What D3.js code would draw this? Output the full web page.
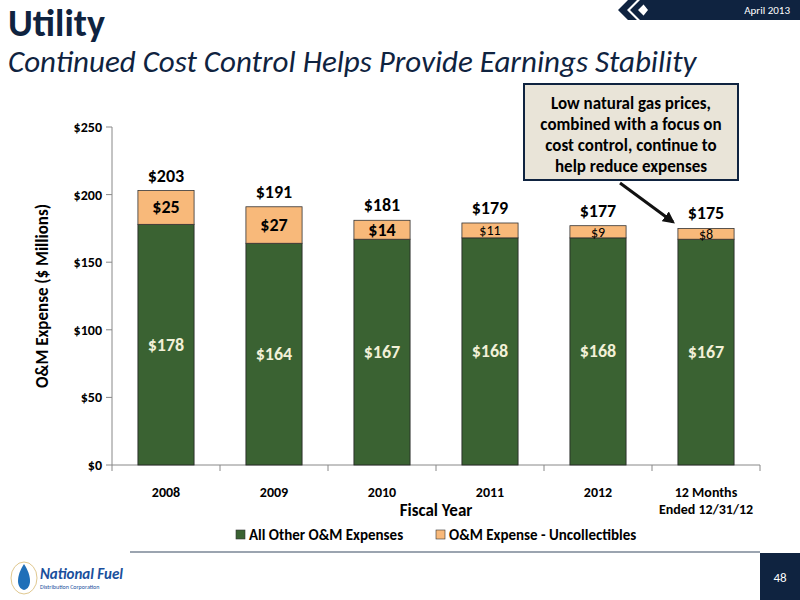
<!DOCTYPE html><html><head><meta charset="utf-8"><script src="https://d3js.org/d3.v7.min.js"></script>
<style>body{margin:0;background:#fff}text{font-family:Carlito,Calibri,"Liberation Sans",sans-serif}</style></head><body>
<svg id="c" width="800" height="600"></svg>
<script>
const categories=["2008","2009","2010","2011","2012","12 Months|Ended 12/31/12"];
const otherOM=[178,164,167,168,168,167];
const uncollect=[25,27,14,11,9,8];
const totals=[203,191,181,179,177,175];
const yTicks=[0,50,100,150,200,250];
const svg=d3.select("#c");
svg.append("path").attr("d","M640,0 L800,0 L800,20 L640,20 L648,10 Z").attr("fill","#0f2340");
svg.append("path").attr("d","M628,0 L637,0 L627,10 L637,20 L628,20 L618,10 Z").attr("fill","#0f2340");
svg.append("path").attr("d","M640,0 L648,0 L638,10 L648,20 L640,20 L630,10 Z").attr("fill","#0f2340");
svg.append("text").attr("x",790).attr("y",14).attr("text-anchor","end").attr("fill","#fff").attr("font-size",11).text("April 2013");
svg.append("text").attr("x",8).attr("y",36).attr("font-size",38).attr("font-weight","bold").attr("fill","#0f2340").text("Utility");
svg.append("text").attr("x",8).attr("y",72).attr("font-size",31).attr("font-style","italic").attr("fill","#0f2340").text("Continued Cost Control Helps Provide Earnings Stability");
const x=d3.scaleBand().domain(categories).range([112,760]).paddingInner(0.48).paddingOuter(0.24);
const y=d3.scaleLinear().domain([0,250]).range([465,127]);
const g=svg.append("g");
g.append("line").attr("x1",112).attr("x2",112).attr("y1",127).attr("y2",465).attr("stroke","#888");
yTicks.forEach(t=>{g.append("line").attr("x1",106).attr("x2",112).attr("y1",y(t)).attr("y2",y(t)).attr("stroke","#888");
 g.append("text").attr("x",102).attr("y",y(t)+5).attr("text-anchor","end").attr("font-size",14).attr("font-weight","bold").text("$"+t);});
g.append("line").attr("x1",112).attr("x2",760).attr("y1",465).attr("y2",465).attr("stroke","#888");
const step=648/6;
for(let i=0;i<=6;i++)g.append("line").attr("x1",112+i*step).attr("x2",112+i*step).attr("y1",465).attr("y2",471).attr("stroke","#888");
categories.forEach((c,i)=>{
 const cx=x(c)+x.bandwidth()/2;
 c.split("|").forEach((l,k)=>g.append("text").attr("x",cx).attr("y",497+k*17).attr("text-anchor","middle").attr("font-size",14).attr("font-weight","bold").text(l));
 g.append("rect").attr("x",x(c)).attr("width",x.bandwidth()).attr("y",y(otherOM[i])).attr("height",y(0)-y(otherOM[i])).attr("fill","#3a6232").attr("stroke","#222").attr("stroke-width",0.8);
 g.append("rect").attr("x",x(c)).attr("width",x.bandwidth()).attr("y",y(totals[i])).attr("height",y(otherOM[i])-y(totals[i])).attr("fill","#f8b97a").attr("stroke","#333").attr("stroke-width",0.8);
 g.append("text").attr("x",cx).attr("y",y(otherOM[i]/2)+6).attr("text-anchor","middle").attr("font-size",18).attr("font-weight","bold").attr("fill","#f2f0d8").text("$"+otherOM[i]);
 const big=uncollect[i]>=14;
 g.append("text").attr("x",cx).attr("y",(y(totals[i])+y(otherOM[i]))/2+(big?6:5)).attr("text-anchor","middle").attr("font-size",big?18:14).attr("font-weight",big?"bold":"normal").text("$"+uncollect[i]);
 g.append("text").attr("x",cx).attr("y",y(totals[i])-9).attr("text-anchor","middle").attr("font-size",18).attr("font-weight","bold").text("$"+totals[i]);
});
svg.append("text").attr("transform","translate(48,296) rotate(-90)").attr("text-anchor","middle").attr("font-size",17).attr("font-weight","bold").text("O&M Expense ($ Millions)");
svg.append("text").attr("x",436).attr("y",516).attr("text-anchor","middle").attr("font-size",17).attr("font-weight","bold").text("Fiscal Year");
[["All Other O&M Expenses","#3a6232",236],["O&M Expense - Uncollectibles","#f8b97a",436]].forEach(([t,c,lx])=>{
 svg.append("rect").attr("x",lx).attr("y",530).attr("width",9).attr("height",9).attr("fill",c).attr("stroke","#333").attr("stroke-width",0.6);
 svg.append("text").attr("x",lx+13).attr("y",540).attr("font-size",15).attr("font-weight","bold").text(t);});
svg.append("rect").attr("x",524).attr("y",84).attr("width",214).attr("height",96).attr("fill","#e9e4d8").attr("stroke","#0f2340").attr("stroke-width",2);
["Low natural gas prices,","combined with a focus on","cost control, continue to","help reduce expenses"].forEach((l,k)=>svg.append("text").attr("x",631).attr("y",109+k*21).attr("text-anchor","middle").attr("font-size",17).attr("font-weight","bold").text(l));
svg.append("defs").append("marker").attr("id","ar").attr("viewBox","0 0 10 10").attr("refX",8).attr("refY",5).attr("markerWidth",4).attr("markerHeight",4).attr("orient","auto").append("path").attr("d","M0,0L10,5L0,10z").attr("fill","#111");
svg.append("line").attr("x1",620).attr("y1",183).attr("x2",673).attr("y2",222).attr("stroke","#111").attr("stroke-width",3).attr("marker-end","url(#ar)");
svg.append("line").attr("x1",130).attr("x2",760).attr("y1",552).attr("y2",552).attr("stroke","#7a8696").attr("stroke-width",1.5);
svg.append("rect").attr("x",760).attr("y",553).attr("width",40).attr("height",47).attr("fill","#0f2340");
svg.append("text").attr("x",780).attr("y",582).attr("text-anchor","middle").attr("fill","#fff").attr("font-size",13).text("48");
svg.append("ellipse").attr("cx",24).attr("cy",578).attr("rx",13).attr("ry",16).attr("fill","none").attr("stroke","#e0c890");
svg.append("path").attr("d","M24,564 C16,576 16,588 24,590 C32,588 32,576 24,564Z").attr("fill","#1f6fb8");
svg.append("text").attr("x",40).attr("y",579).attr("font-size",15).attr("font-weight","bold").attr("font-style","italic").attr("fill","#1a4f9c").text("National Fuel");
svg.append("text").attr("x",40).attr("y",589).attr("font-size",6).attr("fill","#1a4f9c").text("Distribution Corporation");
</script></body></html>
